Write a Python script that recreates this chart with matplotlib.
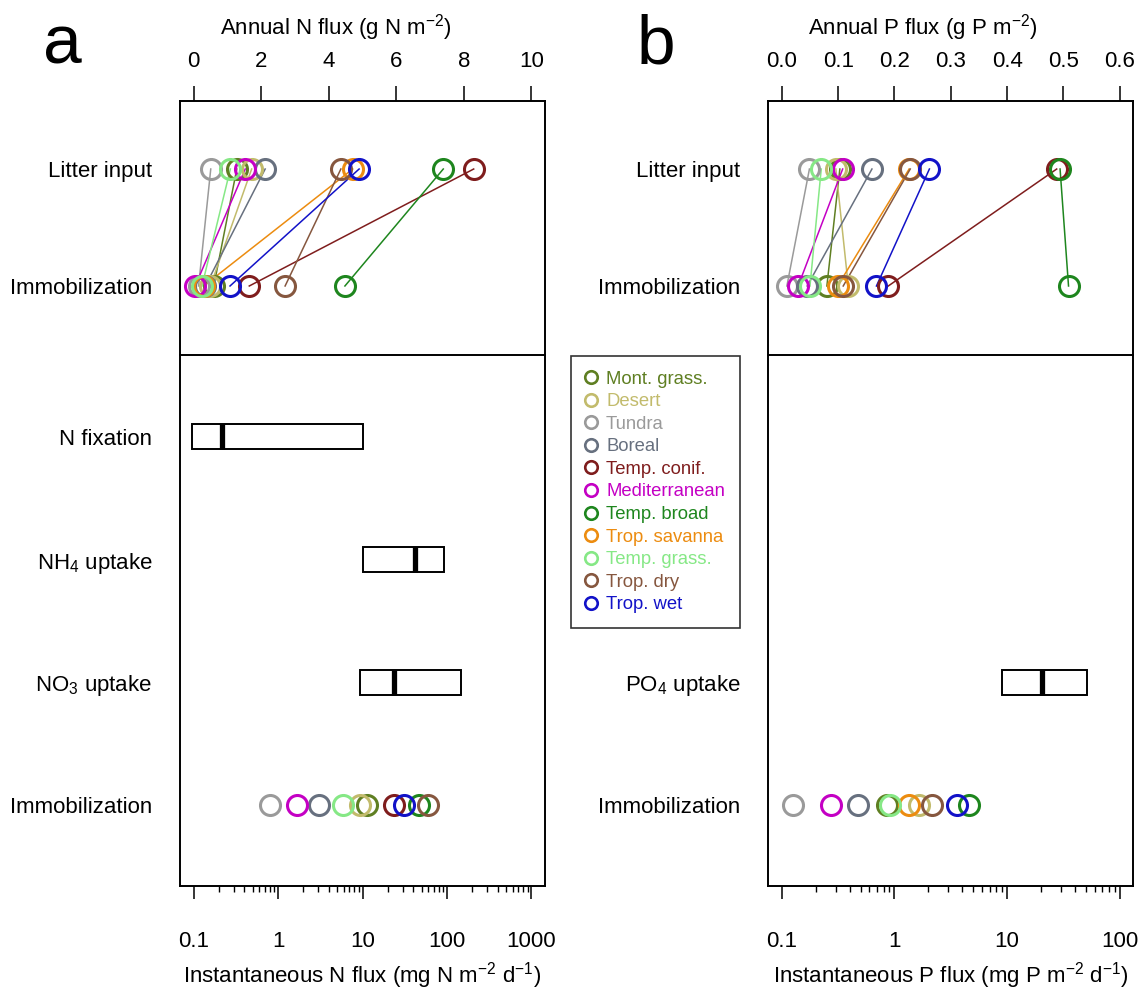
import numpy as np
import matplotlib
matplotlib.use("Agg")
import matplotlib.pyplot as plt
from matplotlib.lines import Line2D
from matplotlib.ticker import FixedLocator, NullFormatter

plt.rcParams['font.family'] = ['Liberation Sans', 'DejaVu Sans']
plt.rcParams['mathtext.fontset'] = 'custom'
plt.rcParams['mathtext.rm'] = 'Liberation Sans'
plt.rcParams['mathtext.it'] = 'Liberation Sans:italic'
plt.rcParams['mathtext.bf'] = 'Liberation Sans:bold'

# ---------------- data ----------------
biomes = ["Mont. grass.", "Desert", "Tundra", "Boreal", "Temp. conif.", "Mediterranean",
          "Temp. broad", "Trop. savanna", "Temp. grass.", "Trop. dry", "Trop. wet"]
colors = ["#5f7f22", "#c2bb6c", "#9a9a9a", "#67707f", "#7f1d1d", "#c400c4",
          "#1e861e", "#ec8c10", "#86e886", "#86573f", "#1212c8"]

# Annual N flux (g N m-2)
litter_N = [1.28, 1.72, 0.51, 2.12, 8.29, 1.53, 7.39, 4.71, 1.09, 4.36, 4.90]
immob_N = [0.60, 0.50, 0.15, 0.35, 1.65, 0.05, 4.48, 0.30, 0.25, 2.71, 1.08]
# Instantaneous N immobilization (mg N m-2 d-1)
inst_immob_N = [11.3, 9.45, 0.81, 3.08, 23.9, 1.68, 46.4, np.nan, 5.9, 59.3, 30.8]

# Annual P flux (g P m-2)
litter_P = [0.103, 0.096, 0.049, 0.160, 0.488, 0.108, 0.494, 0.226, 0.070, 0.228, 0.262]
immob_P = [0.080, 0.118, 0.009, 0.045, 0.189, 0.029, 0.509, 0.099, 0.050, 0.109, 0.168]
# Instantaneous P immobilization (mg P m-2 d-1)
inst_immob_P = [0.85, 1.64, 0.126, 0.474, np.nan, 0.274, 4.58, 1.34, 0.92, 2.16, 3.61]

# uptake ranges: (low, median, high)
n_box_low = [0.096, 10.0, 9.3]
n_box_med = [0.217, 41.5, 23.9]
n_box_high = [10.0, 93.0, 147.0]

p_box_low = [8.96]
p_box_med = [20.2]
p_box_high = [51.5]

top_rows = ["Litter input", "Immobilization"]
bottom_rows_N = ["N fixation", "NH$_4$ uptake", "NO$_3$ uptake", "Immobilization"]
bottom_rows_P = ["PO$_4$ uptake", "Immobilization"]

a_top_ticks = [0, 2, 4, 6, 8, 10]
b_top_ticks = [0.0, 0.1, 0.2, 0.3, 0.4, 0.5, 0.6]
a_log_ticks = [0.1, 1, 10, 100, 1000]
b_log_ticks = [0.1, 1, 10, 100]

# ---------------- layout ----------------
W, H = 1140, 991
fig = plt.figure(figsize=(W / 100, H / 100), dpi=100)

FS = 16
SPW = 1.4
MS = 14.4
MEW = 2.2


def px_axes(x0, x1, y0, y1):
    return fig.add_axes([x0 / W, 1 - y1 / H, (x1 - x0) / W, (y1 - y0) / H])


def minor_positions(majors):
    out = []
    for m in majors[:-1]:
        out.extend([m * k for k in range(2, 10)])
    return out


def make_panel(x0, top_xlim, top_ticks, top_ticklabels, log_xlim, log_ticks, log_labels,
               litter, immob, inst, box_rows, box_low, box_med, box_high,
               bottom_row_pos, bottom_row_labels):
    x1 = x0 + 365
    axT = px_axes(x0, x1, 100.7, 355)
    axB = px_axes(x0, x1, 355, 886)

    # ---- top panel (annual, linear)
    for i in range(len(biomes)):
        axT.plot([litter[i], immob[i]], [0, 1], color=colors[i], lw=1.1, zorder=2)
    for i in range(len(biomes)):
        axT.plot([litter[i], immob[i]], [0, 1], ls='none', marker='o', ms=MS,
                 mfc='none', mec=colors[i], mew=MEW, zorder=3)
    axT.set_xlim(*top_xlim)
    axT.set_ylim(1.590, -0.584)
    axT.set_xticks(top_ticks)
    axT.set_xticklabels(top_ticklabels)
    axT.xaxis.tick_top()
    axT.tick_params(axis='x', which='both', top=True, bottom=False, labeltop=True,
                    labelbottom=False, length=11, width=1.1, pad=10, labelsize=FS)
    axT.set_yticks([0, 1])
    axT.set_yticklabels(top_rows)
    axT.tick_params(axis='y', length=0, pad=20, labelsize=FS)
    axT.spines['bottom'].set_visible(False)
    for s in ['top', 'left', 'right']:
        axT.spines[s].set_linewidth(SPW)

    # ---- bottom panel (instantaneous, log)
    axB.set_xscale('log')
    for i in range(len(biomes)):
        if not np.isnan(inst[i]):
            axB.plot([inst[i]], [3], ls='none', marker='o', ms=MS, mfc='none',
                     mec=colors[i], mew=MEW, zorder=3)
    bh = 0.204
    for r, lo, md, hi in zip(box_rows, box_low, box_med, box_high):
        axB.barh(r, hi - lo, left=lo, height=bh, facecolor='none', edgecolor='black',
                 linewidth=1.4, zorder=2)
        axB.plot([md, md], [r - bh / 2, r + bh / 2], color='black', lw=3.8,
                 solid_capstyle='butt', zorder=3)
    axB.set_xlim(*log_xlim)
    axB.set_ylim(3.660, -0.667)
    axB.xaxis.set_major_locator(FixedLocator(log_ticks))
    axB.set_xticklabels(log_labels)
    axB.xaxis.set_minor_locator(FixedLocator(minor_positions(log_ticks)))
    axB.xaxis.set_minor_formatter(NullFormatter())
    axB.tick_params(axis='x', which='major', length=9.5, width=1.1, pad=23, labelsize=FS)
    axB.tick_params(axis='x', which='minor', length=4.5, width=1.0)
    axB.set_yticks(bottom_row_pos)
    axB.set_yticklabels(bottom_row_labels)
    axB.tick_params(axis='y', length=0, pad=20, labelsize=FS)
    for s in ['top', 'bottom', 'left', 'right']:
        axB.spines[s].set_linewidth(SPW)
    return axT, axB


# panel a
axTa, axBa = make_panel(180, (-0.4, 10.4), a_top_ticks, [str(t) for t in a_top_ticks],
                        (10 ** -1.16, 10 ** 3.16), a_log_ticks,
                        ["0.1", "1", "10", "100", "1000"],
                        litter_N, immob_N, inst_immob_N,
                        [0, 1, 2], n_box_low, n_box_med, n_box_high,
                        [0, 1, 2, 3], bottom_rows_N)

# panel b
axTb, axBb = make_panel(768.3, (-0.024, 0.624), b_top_ticks, [f"{t:.1f}" for t in b_top_ticks],
                        (10 ** -1.12, 10 ** 2.12), b_log_ticks,
                        ["0.1", "1", "10", "100"],
                        litter_P, immob_P, inst_immob_P,
                        [2], p_box_low, p_box_med, p_box_high,
                        [2, 3], bottom_rows_P)

# axis titles
fig.text(336 / W, 1 - 28 / H, "Annual N flux (g N m$^{-2}$)", ha='center', va='center', fontsize=FS)
fig.text(923 / W, 1 - 28 / H, "Annual P flux (g P m$^{-2}$)", ha='center', va='center', fontsize=FS)
fig.text(362.5 / W, 1 - 976 / H, "Instantaneous N flux (mg N m$^{-2}$ d$^{-1}$)",
         ha='center', va='center', fontsize=FS)
fig.text(950.8 / W, 1 - 976 / H, "Instantaneous P flux (mg P m$^{-2}$ d$^{-1}$)",
         ha='center', va='center', fontsize=FS)

# panel letters
fig.text(62 / W, 1 - 46 / H, "a", ha='center', va='center', fontsize=50)
fig.text(656 / W, 1 - 46 / H, "b", ha='center', va='center', fontsize=50)

# legend
handles = [Line2D([], [], ls='none', marker='o', ms=9, mfc='none', mec=c, mew=1.9)
           for c in colors]
leg = fig.legend(handles, biomes, loc='upper left', bbox_to_anchor=(571 / W, 1 - 356 / H),
                 fontsize=13.3, frameon=True, fancybox=False, edgecolor='black',
                 handlelength=0.6, handletextpad=0.5, labelspacing=0.3,
                 borderpad=0.8, borderaxespad=0)
leg.get_frame().set_linewidth(1.2)
for t, c in zip(leg.get_texts(), colors):
    t.set_color(c)

fig.savefig("out.png", dpi=100)
